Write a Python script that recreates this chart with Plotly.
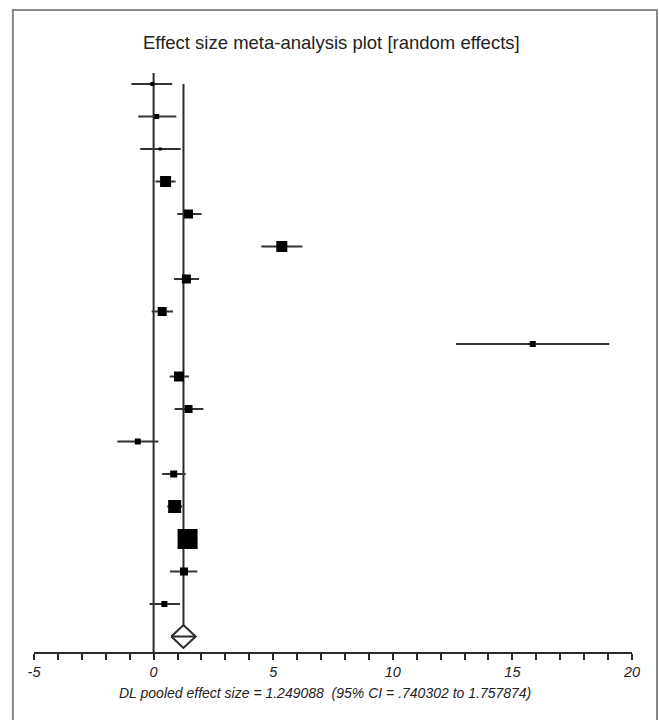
import plotly.graph_objects as go

# ---- data ----
study_rows = list(range(1, 18))
effect = [-0.05, 0.13, 0.28, 0.50, 1.46, 5.36, 1.37, 0.36, 15.85, 1.06, 1.46, -0.66, 0.84, 0.88, 1.42, 1.27, 0.45]
ci_low = [-0.93, -0.64, -0.56, 0.08, 0.99, 4.50, 0.85, -0.08, 12.64, 0.67, 0.88, -1.52, 0.36, 0.57, 1.13, 0.68, -0.17]
ci_high = [0.78, 0.95, 1.13, 0.92, 2.00, 6.22, 1.90, 0.81, 19.05, 1.48, 2.08, 0.20, 1.34, 1.20, 1.83, 1.83, 1.10]
weight_size = [4, 5, 3, 11, 9, 11, 9, 9, 6, 10, 8, 6, 7, 13, 20, 8, 6]

pooled = 1.249088
pooled_low = 0.740302
pooled_high = 1.757874
pooled_row = 18
null_value = 0

tick_labels = ["-5", "0", "5", "10", "15", "20"]
tick_values = [-5, 0, 5, 10, 15, 20]
minor_ticks = list(range(-5, 21))

title_text = "Effect size meta-analysis plot [random effects]"
caption_text = ("DL pooled effect size = 1.249088 &nbsp;(95% CI = .740302 to 1.757874)")

ink = "#2a2a2a"
font_family = "Liberation Sans, Arial, sans-serif"

fig = go.Figure()

# null line
fig.add_trace(go.Scatter(x=[null_value, null_value], y=[0.66, 18.477], mode="lines",
                         line=dict(color=ink, width=2), hoverinfo="skip", showlegend=False))
# pooled line
diamond_half = 0.35
fig.add_trace(go.Scatter(x=[pooled, pooled], y=[1, pooled_row - diamond_half], mode="lines",
                         line=dict(color=ink, width=2), hoverinfo="skip", showlegend=False))

# confidence interval lines
ci_x, ci_y = [], []
for lo, hi, r in zip(ci_low, ci_high, study_rows):
    ci_x += [lo, hi, None]
    ci_y += [r, r, None]
fig.add_trace(go.Scatter(x=ci_x, y=ci_y, mode="lines", line=dict(color="#333333", width=2),
                         hoverinfo="skip", showlegend=False, cliponaxis=False))

# study squares
fig.add_trace(go.Scatter(
    x=effect, y=study_rows, mode="markers",
    marker=dict(symbol="square", size=weight_size, color="black", opacity=1, line=dict(width=0)),
    showlegend=False, cliponaxis=False))

# diamond
fig.add_trace(go.Scatter(
    x=[pooled_low, pooled, pooled_high, pooled, pooled_low],
    y=[pooled_row, pooled_row - diamond_half, pooled_row, pooled_row + diamond_half, pooled_row],
    mode="lines", line=dict(color=ink, width=2), fill="toself", fillcolor="white",
    showlegend=False, hoverinfo="skip"))
fig.add_trace(go.Scatter(x=[pooled_low, pooled_high], y=[pooled_row, pooled_row], mode="lines",
                         line=dict(color=ink, width=2), showlegend=False, hoverinfo="skip"))

fig.update_layout(
    width=659, height=720,
    margin=dict(l=34, r=27, t=60, b=68),
    plot_bgcolor="white", paper_bgcolor="white",
    font=dict(family=font_family, color="#222222"),
    xaxis=dict(range=[-5, 20], showgrid=False, zeroline=False,
               showline=True, linewidth=2, linecolor=ink,
               tickvals=tick_values, ticktext=["<i>%s</i>" % t for t in tick_labels],
               ticks="outside", ticklen=6, tickwidth=2, tickcolor=ink,
               tickfont=dict(size=14.5, family=font_family, color="#222222"),
               minor=dict(tickvals=minor_ticks, ticks="outside", ticklen=6,
                          tickwidth=2, tickcolor=ink)),
    yaxis=dict(range=[18.477, 0.2615], visible=False),
    annotations=[
        dict(text=title_text, x=0.498, y=1.0304, xref="paper", yref="paper",
             showarrow=False, xanchor="center", yanchor="middle",
             font=dict(size=18.5, family=font_family, color="#222222")),
        dict(text="<i>%s</i>" % caption_text, x=0.4866, y=-0.0693, xref="paper", yref="paper",
             showarrow=False, xanchor="center", yanchor="middle",
             font=dict(size=14, family=font_family, color="#222222")),
    ],
    shapes=[dict(type="rect", xref="paper", yref="paper",
                 x0=-0.0353, x1=1.0418, y0=-0.14, y1=1.0845,
                 line=dict(color="#888888", width=2), fillcolor="rgba(0,0,0,0)", layer="below")],
)

fig.write_html("out.html")
